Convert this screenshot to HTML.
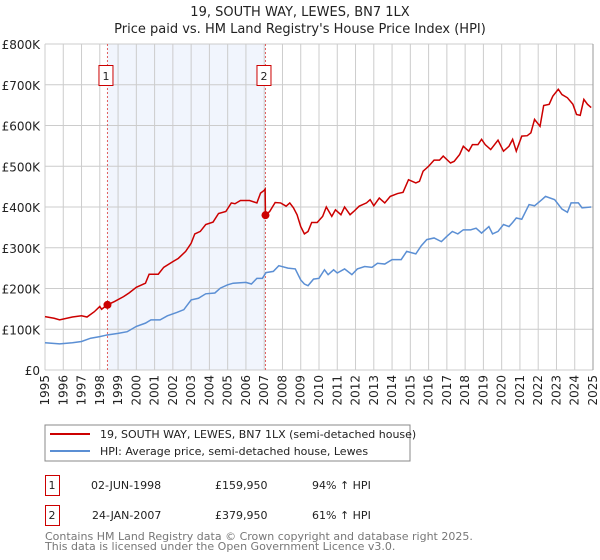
<!DOCTYPE html>
<html><head><meta charset="utf-8"><style>
body{margin:0;background:#fff;}
svg{display:block;font-family:"DejaVu Sans","Liberation Sans",sans-serif;}
</style></head><body>
<svg id="c" width="600" height="560" viewBox="0 0 600 560">
<text x="300" y="16" text-anchor="middle" font-size="13" fill="#222">19, SOUTH WAY, LEWES, BN7 1LX</text>
<text x="300" y="33" text-anchor="middle" font-size="13" fill="#222">Price paid vs. HM Land Registry's House Price Index (HPI)</text>
<g id="plot"></g>
<rect x="45" y="425" width="365" height="36" fill="#fff" stroke="#888"/>
<line x1="50" y1="434" x2="90" y2="434" stroke="#cc0000" stroke-width="2"/>
<text x="100" y="438" font-size="11" fill="#222">19, SOUTH WAY, LEWES, BN7 1LX (semi-detached house)</text>
<line x1="50" y1="451" x2="90" y2="451" stroke="#5b8fd4" stroke-width="2"/>
<text x="100" y="455" font-size="11" fill="#222">HPI: Average price, semi-detached house, Lewes</text>
<g font-size="11" fill="#222">
<rect x="45.5" y="475.5" width="14" height="20" fill="#fff" stroke="#cc0000"/>
<text x="52" y="489" text-anchor="middle">1</text>
<text x="91" y="489">02-JUN-1998</text>
<text x="215" y="489">£159,950</text>
<text x="312" y="489">94% ↑ HPI</text>
<rect x="45.5" y="505.5" width="14" height="20" fill="#fff" stroke="#cc0000"/>
<text x="52" y="519" text-anchor="middle">2</text>
<text x="92" y="519">24-JAN-2007</text>
<text x="215" y="519">£379,950</text>
<text x="312" y="519">61% ↑ HPI</text>
</g>
<text x="45" y="540" font-size="11" fill="#777">Contains HM Land Registry data © Crown copyright and database right 2025.</text>
<text x="45" y="550" font-size="11" fill="#777">This data is licensed under the Open Government Licence v3.0.</text>
</svg>
<script>
const yTicks=[0,100,200,300,400,500,600,700,800];
const yTickLabels=["£0","£100K","£200K","£300K","£400K","£500K","£600K","£700K","£800K"];
const years=[1995,1996,1997,1998,1999,2000,2001,2002,2003,2004,2005,2006,2007,2008,2009,2010,2011,2012,2013,2014,2015,2016,2017,2018,2019,2020,2021,2022,2023,2024,2025];
const saleDates=[1998.42,2007.07];
const salePrices=[159.95,379.95];
const saleLabels=["1","2"];
const propT=[1995,1995.5,1995.8,1996.5,1997,1997.3,1997.7,1998,1998.1,1998.42,1998.8,1999.3,1999.6,2000,2000.5,2000.7,2001.2,2001.5,2002,2002.3,2002.7,2003,2003.2,2003.5,2003.8,2004.2,2004.5,2004.9,2005.2,2005.4,2005.7,2006.2,2006.6,2006.8,2007.0,2007.05,2007.07,2007.3,2007.6,2007.9,2008.2,2008.4,2008.6,2008.8,2009.0,2009.2,2009.4,2009.6,2009.9,2010.2,2010.4,2010.7,2010.9,2011.2,2011.4,2011.7,2011.9,2012.2,2012.6,2012.8,2013.0,2013.3,2013.6,2013.9,2014.3,2014.6,2014.9,2015.3,2015.5,2015.7,2016.0,2016.3,2016.6,2016.8,2017.2,2017.4,2017.7,2017.9,2018.2,2018.4,2018.7,2018.9,2019.1,2019.4,2019.8,2020.1,2020.4,2020.6,2020.8,2021.1,2021.4,2021.6,2021.8,2022.1,2022.3,2022.6,2022.8,2023.1,2023.3,2023.6,2023.9,2024.1,2024.3,2024.5,2024.7,2024.9];
const propV=[131,127,123,130,133,130,143,156,149,159.95,168,180,189,203,213,235,235,252,266,274,291,311,334,340,357,363,384,389,410,408,416,416,410,434,441,444,379.95,389,411,410,402,410,398,381,352,334,340,362,362,377,400,377,393,381,400,381,389,402,410,418,403,422,410,426,433,436,467,459,463,488,500,515,515,525,508,512,529,549,537,553,553,566,553,541,564,537,549,566,537,574,575,582,615,598,649,652,672,689,676,668,652,627,625,664,652,644];
const hpiT=[1995,1995.8,1996.5,1997,1997.5,1998,1998.4,1999,1999.5,2000,2000.5,2000.8,2001.3,2001.7,2002.2,2002.6,2003.0,2003.4,2003.8,2004.3,2004.6,2005.0,2005.3,2006.0,2006.3,2006.6,2006.9,2007.1,2007.5,2007.8,2008.3,2008.7,2009.0,2009.2,2009.4,2009.7,2010.0,2010.3,2010.5,2010.8,2011.0,2011.4,2011.8,2012.1,2012.5,2012.9,2013.2,2013.6,2014.0,2014.5,2014.8,2015.3,2015.6,2015.9,2016.3,2016.7,2017.0,2017.3,2017.6,2017.9,2018.3,2018.6,2018.9,2019.3,2019.5,2019.8,2020.1,2020.4,2020.6,2020.8,2021.1,2021.5,2021.8,2022.2,2022.4,2022.9,2023.3,2023.6,2023.8,2024.2,2024.4,2024.9];
const hpiV=[67,64,67,70,78,82,86,90,94,107,115,123,123,133,141,148,172,176,187,189,201,209,213,215,211,225,225,239,242,256,250,248,221,211,207,223,225,246,234,246,238,248,234,248,254,252,262,260,271,271,291,285,305,320,324,315,328,340,334,344,344,348,336,352,334,340,357,352,362,373,370,406,403,418,426,418,395,387,410,410,398,400];

const NS="http://www.w3.org/2000/svg";
const X0=45,X1=593,Y0=370,Y1=44;
const xs=t=>X0+(t-1995)/30*(X1-X0);
const ys=v=>Y0-v/800*(Y0-Y1);
const g=document.getElementById('plot');
function mk(tag,attrs,parent){const e=document.createElementNS(NS,tag);for(const k in attrs)e.setAttribute(k,attrs[k]);(parent||g).appendChild(e);return e;}
let sh=mk('rect',{x:xs(saleDates[0]),y:Y1,width:xs(saleDates[1])-xs(saleDates[0]),height:Y0-Y1,fill:'#eef3fd',opacity:0.8});


years.forEach(y=>{const l=mk('line',{x1:xs(y),x2:xs(y),y1:Y1,y2:Y0,stroke:'#ccc'});


const t=mk('text',{x:0,y:0,'font-size':12,fill:'#222','text-anchor':'end',transform:`translate(${xs(y)+4},375) rotate(-90)`});t.textContent=y;

});
yTicks.forEach((v,i)=>{const l=mk('line',{x1:X0,x2:X1,y1:ys(v),y2:ys(v),stroke:'#ccc'});


const t=mk('text',{x:40,y:ys(v)+5,'font-size':12,fill:'#222','text-anchor':'end'});t.textContent=yTickLabels[i];

});
saleDates.forEach((d,i)=>{const l=mk('line',{x1:xs(d),x2:xs(d),y1:Y1,y2:Y0,stroke:'#e06060','stroke-dasharray':'2,2'});


const r=mk('rect',{x:xs(d)-8.5,y:65.5,width:14,height:20,fill:'#fff',stroke:'#cc0000'});


const t=mk('text',{x:xs(d)-1.5,y:80,'font-size':11,fill:'#222','text-anchor':'middle'});t.textContent=saleLabels[i];

});
const hp=mk('polyline',{points:hpiT.map((t,i)=>xs(t)+','+ys(hpiV[i])).join(' '),fill:'none',stroke:'#5b8fd4','stroke-width':1.5});


const pp=mk('polyline',{points:propT.map((t,i)=>xs(t)+','+ys(propV[i])).join(' '),fill:'none',stroke:'#cc0000','stroke-width':1.5});


saleDates.forEach((d,i)=>{const c=mk('circle',{cx:xs(d),cy:ys(salePrices[i]),r:4,fill:'#cc0000'});

});
const ax=mk('line',{x1:X1,x2:X1,y1:Y1,y2:Y0,stroke:'#999'});


</script>
</body></html>
